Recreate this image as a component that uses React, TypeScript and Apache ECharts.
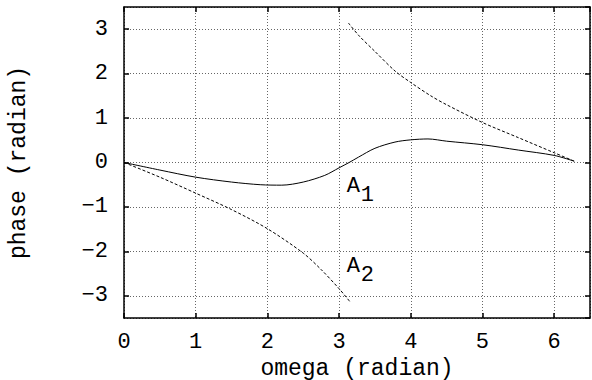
import React, { useEffect, useRef } from "react";
import * as echarts from "echarts";

const xTicks = [0, 1, 2, 3, 4, 5, 6];
const omegaA1 = [0, 0.5, 1, 1.5, 1.9, 2.2, 2.5, 2.8, 3.0, 3.14, 3.27, 3.5, 3.78, 4.0, 4.24, 4.5, 5.0, 5.5, 6.0, 6.28];
const phaseA1 = [0, -0.17, -0.33, -0.44, -0.5, -0.51, -0.44, -0.29, -0.12, 0.0, 0.12, 0.32, 0.46, 0.51, 0.53, 0.48, 0.4, 0.28, 0.16, 0.03];
const omegaA2Lower = [0, 0.5, 1, 1.5, 2, 2.5, 2.75, 3, 3.15];
const phaseA2Lower = [0, -0.33, -0.69, -1.06, -1.49, -2.04, -2.41, -2.84, -3.13];
const omegaA2Upper = [3.13, 3.28, 3.5, 3.78, 4, 4.28, 4.5, 5, 5.5, 6, 6.28];
const phaseA2Upper = [3.14, 2.85, 2.5, 2.06, 1.8, 1.5, 1.3, 0.9, 0.56, 0.22, 0.03];
const labelA1 = [3.1, -0.54];
const labelA2 = [3.1, -2.35];

const FONT = "Liberation Mono";

export default function App() {
  const ref = useRef<HTMLDivElement>(null);
  useEffect(() => {
    document.body.style.margin = "0";
    const chart = echarts.init(ref.current!, null, { renderer: "svg" });
    const zip = (xs: number[], ys: number[]) => xs.map((x, i) => [x, ys[i]]);
    const splitLine = { show: true, lineStyle: { color: "#666", type: [1, 2] as any, width: 1 } };
    const axisLine = { show: true, onZero: false, lineStyle: { color: "#000", width: 1.5 } };
    const axisTick = { show: true, inside: true, length: 5, lineStyle: { color: "#000", width: 1.5 } };
    const textStyle = { fontFamily: FONT, fontSize: 22, lineHeight: 22, color: "#000" };
    const nameStyle = { fontFamily: FONT, fontSize: 23, lineHeight: 23, color: "#000" };
    const mkLabel = (coord: number[], sub: string) => ({
      symbol: "circle",
      symbolSize: 1,
      silent: true,
      itemStyle: { color: "rgba(0,0,0,0)" },
      data: [
        {
          coord,
          label: { show: true, position: "right", formatter: "A", ...textStyle, distance: 0 },
        },
        {
          coord,
          label: { show: true, position: "right", formatter: sub, ...textStyle, distance: 0, offset: [14, 9] },
        },
      ],
    });
    chart.setOption({
      animation: false,
      backgroundColor: "#fff",
      grid: { left: 124, right: 2, top: 7, bottom: 62, outerBoundsMode: "none", containLabel: false },
      xAxis: [
        {
          type: "value",
          min: 0,
          max: 6.5,
          interval: 1,
          axisLine,
          axisTick,
          splitLine,
          axisLabel: { ...textStyle, margin: 13, showMaxLabel: false, formatter: (v: number) => (xTicks.includes(v) ? String(v) : "") },
          name: "omega (radian)",
          nameLocation: "middle",
          nameGap: 39,
          nameMoveOverlap: false,
          nameTextStyle: nameStyle,
        },
        {
          type: "value",
          position: "top",
          min: 0,
          max: 6.5,
          interval: 1,
          axisLine,
          axisTick,
          splitLine: { show: false },
          axisLabel: { show: false },
        },
      ],
      yAxis: [
        {
          type: "value",
          min: -3.5,
          max: 3.5,
          splitNumber: 7,
          axisLine,
          axisTick,
          splitLine,
          axisLabel: {
            ...textStyle,
            margin: 16,
            showMinLabel: false,
            showMaxLabel: false,
            formatter: (v: number) => (v < 0 ? "\u2212" + Math.abs(v) : String(v)),
          },
          name: "phase (radian)",
          nameLocation: "middle",
          nameGap: 94,
          nameMoveOverlap: false,
          nameTextStyle: nameStyle,
        },
        {
          type: "value",
          position: "right",
          min: -3.5,
          max: 3.5,
          splitNumber: 7,
          axisLine,
          axisTick,
          splitLine: { show: false },
          axisLabel: { show: false },
        },
      ],
      series: [
        {
          name: "A1",
          type: "line",
          data: zip(omegaA1, phaseA1),
          smooth: 0.3,
          showSymbol: false,
          lineStyle: { color: "#000", width: 1 },
          markPoint: mkLabel(labelA1, "1"),
        },
        {
          name: "A2",
          type: "line",
          data: zip(omegaA2Lower, phaseA2Lower),
          smooth: 0.3,
          showSymbol: false,
          lineStyle: { color: "#000", width: 1, type: [3, 2] },
          markPoint: mkLabel(labelA2, "2"),
        },
        {
          name: "A2 upper",
          type: "line",
          data: zip(omegaA2Upper, phaseA2Upper),
          smooth: 0.3,
          showSymbol: false,
          lineStyle: { color: "#000", width: 1, type: [3, 2] },
        },
      ],
    });
    return () => chart.dispose();
  }, []);
  return <div ref={ref} style={{ width: 592, height: 380 }} />;
}
